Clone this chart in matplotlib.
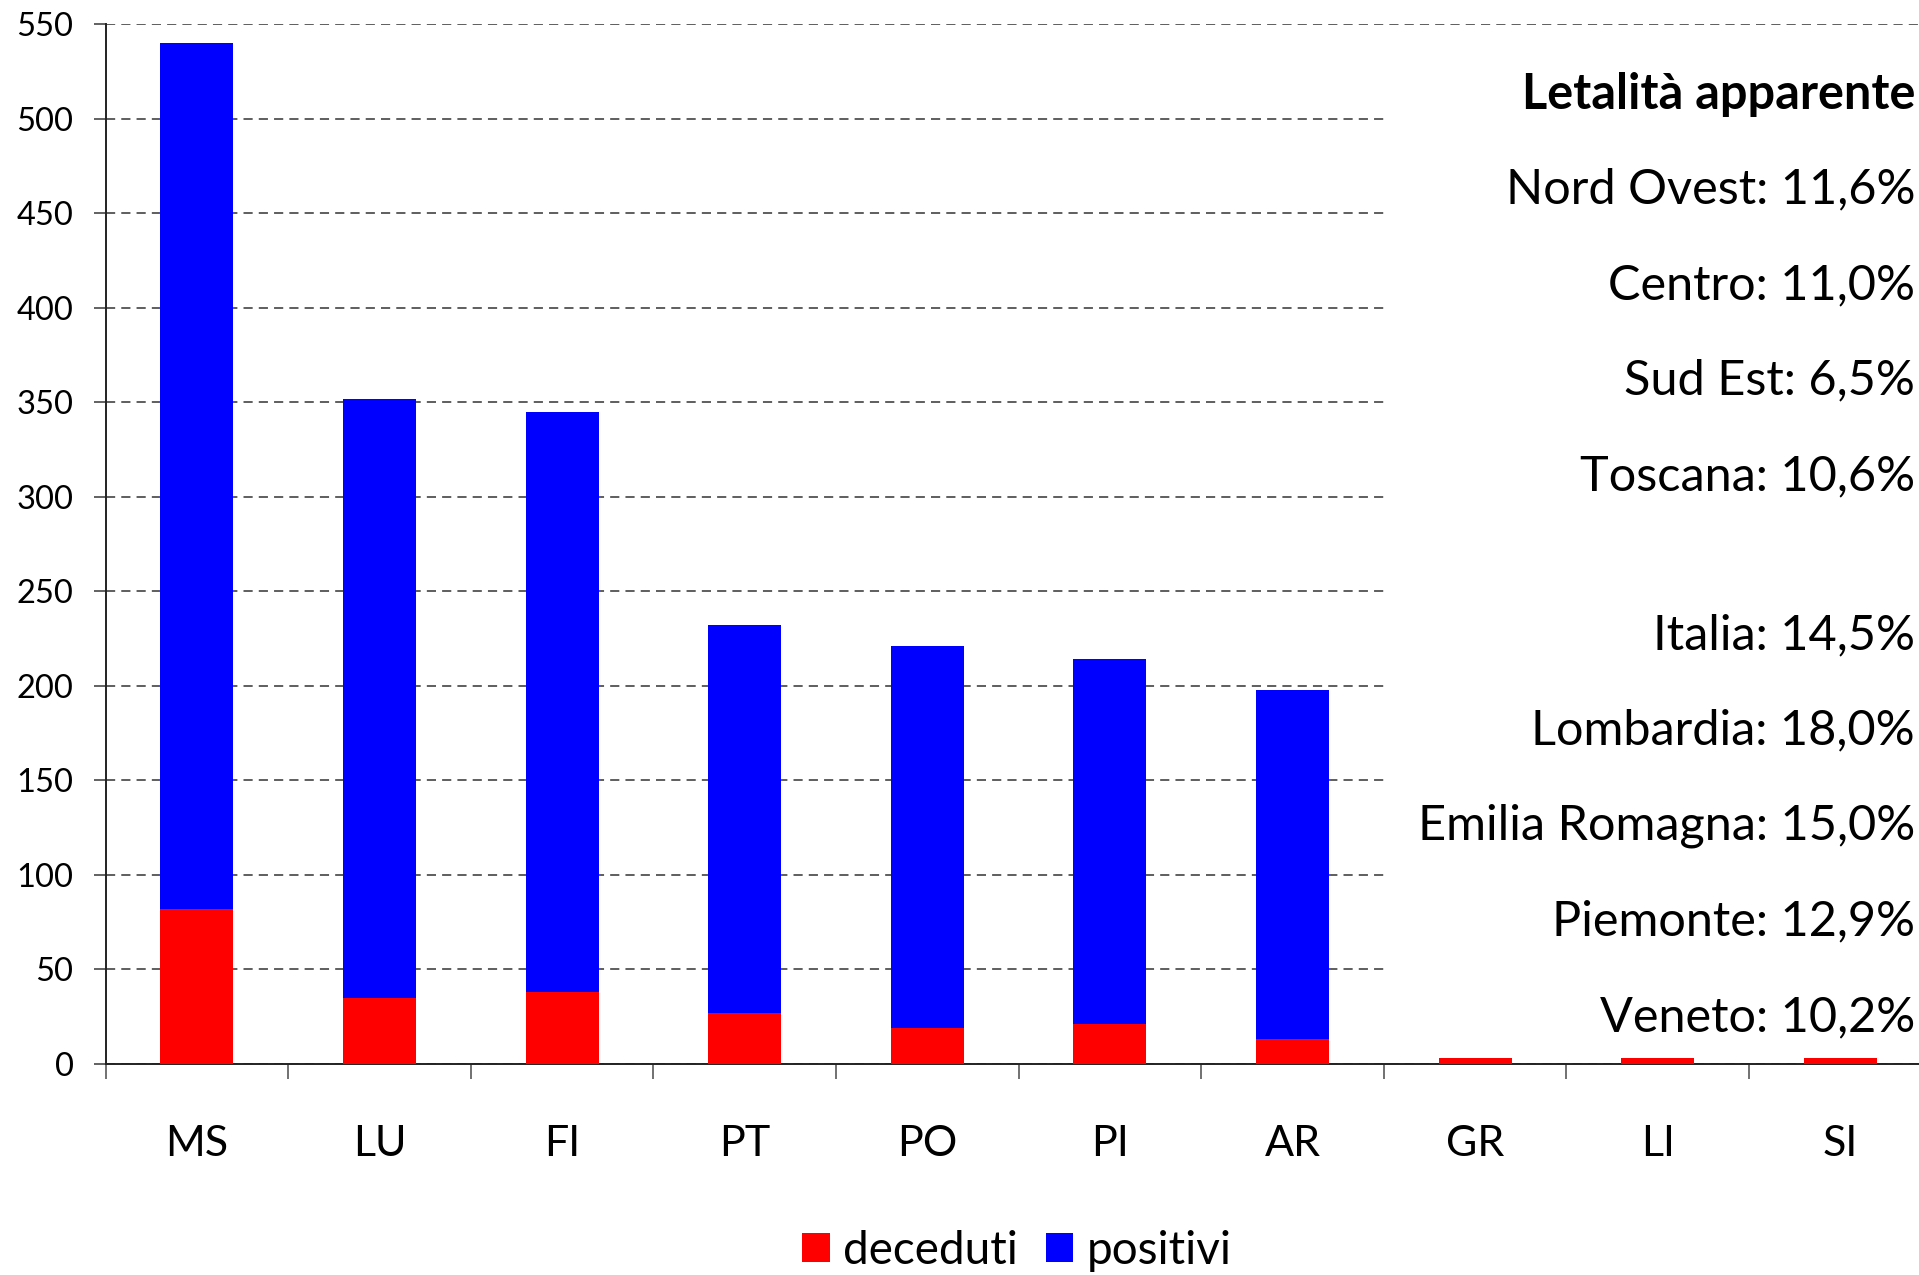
import numpy as np
import matplotlib.pyplot as plt
from matplotlib.patches import Rectangle

plt.rcParams['font.family'] = ['Lato', 'DejaVu Sans']

province = ['MS', 'LU', 'FI', 'PT', 'PO', 'PI', 'AR', 'GR', 'LI', 'SI']
deceduti = [82, 35, 38, 27, 19, 21, 13, 3, 3, 3]
totale = [540, 352, 345, 232, 221, 214, 198, 3, 3, 3]
positivi = [t - d for t, d in zip(totale, deceduti)]

titolo = 'Letalità apparente'
letalita = ['Nord Ovest: 11,6%', 'Centro: 11,0%', 'Sud Est: 6,5%', 'Toscana: 10,6%',
            'Italia: 14,5%', 'Lombardia: 18,0%', 'Emilia Romagna: 15,0%',
            'Piemonte: 12,9%', 'Veneto: 10,2%']

fig = plt.figure(figsize=(19.19, 12.75), dpi=100)
ax = fig.add_axes([0.055, 0.1655, 0.9516, 0.8155])

x = np.arange(len(province))
ax.bar(x, deceduti, 0.4, color='#ff0000', label='deceduti', zorder=3)
ax.bar(x, positivi, 0.4, bottom=deceduti, color='#0000ff', label='positivi', zorder=3)

ax.set_xlim(-0.5, len(province) - 0.5)
ax.set_ylim(0, 550)
ax.set_yticks(np.arange(0, 551, 50))
ax.tick_params(axis='y', labelsize=23.5, length=9, width=1.3, color='#555555', pad=14)

ax.set_xticks(np.arange(-0.5, len(province), 1.0))
ax.set_xticklabels([])
ax.tick_params(axis='x', which='major', length=11, width=1.3, color='#666666')
ax.set_xticks(x, minor=True)
ax.set_xticklabels(province, minor=True)
ax.tick_params(axis='x', which='minor', length=0, labelsize=31, pad=44)

ax.yaxis.grid(True, linestyle=(0, (6, 4)), color='#333333', linewidth=1.1)
ax.set_axisbelow(True)
for s in ['top', 'right']:
    ax.spines[s].set_visible(False)
ax.spines['left'].set_color('#222222')
ax.spines['bottom'].set_color('#222222')
ax.spines['left'].set_linewidth(1.4)
ax.spines['bottom'].set_linewidth(1.4)

# box bianco che copre la griglia dietro il testo
fig.patches.append(Rectangle((1389 / 1919, (1275 - 1046) / 1275), 1 - 1389 / 1919,
                             (1046 - 60) / 1275, transform=fig.transFigure,
                             facecolor='white', edgecolor='none', zorder=1))

ys = [189.7, 285.2, 380.6, 476.1, 635.2, 730.7, 826.1, 921.6, 1017]
fig.text(1915 / 1919, 1 - 94.2 / 1275, titolo, ha='right', va='center',
         fontsize=35, fontweight='bold', zorder=5)
for t, y in zip(letalita, ys):
    fig.text(1915 / 1919, 1 - y / 1275, t, ha='right', va='center', fontsize=35, zorder=5)

fig.legend(loc='center', bbox_to_anchor=(0.53, 0.019), ncol=2, frameon=False,
           fontsize=33, handlelength=0.6, handleheight=0.6, handletextpad=0.3,
           columnspacing=0.6)

fig.savefig('out.png', dpi=100)
